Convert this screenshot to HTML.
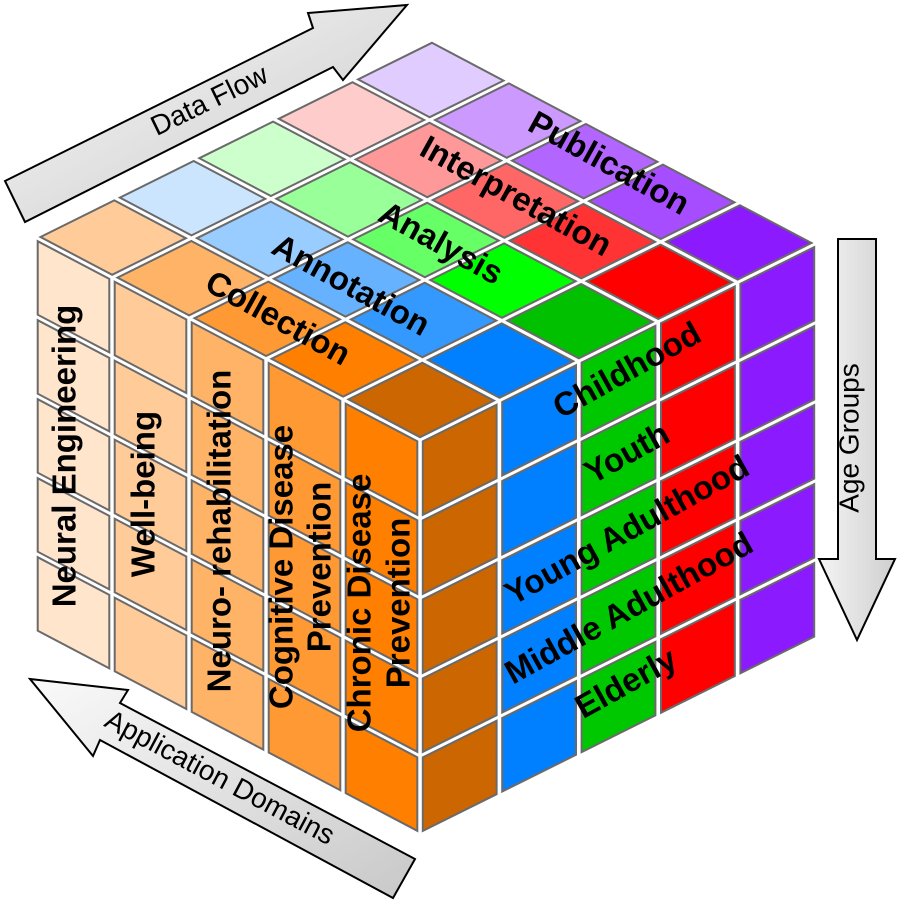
<!DOCTYPE html>
<html><head><meta charset="utf-8">
<style>
html,body{margin:0;padding:0;background:#fff;}
svg{display:block;}
text{font-family:"Liberation Sans",Arial,sans-serif;}
.b{font-weight:bold;font-size:33px;fill:#000;}
.a{font-size:28px;fill:#000;}
</style></head>
<body>
<svg id="s" width="900" height="904" viewBox="0 0 900 904" xmlns="http://www.w3.org/2000/svg">
<defs>
<linearGradient id="g1" x1="0" y1="0" x2="1" y2="1"><stop offset="0" stop-color="#fafafa"/><stop offset="1" stop-color="#c8c8c8"/></linearGradient>
<linearGradient id="g2" x1="0" y1="0" x2="1" y2="0"><stop offset="0" stop-color="#f4f4f4"/><stop offset="1" stop-color="#cfcfcf"/></linearGradient>
</defs>
<polygon points="5,181 313,28 308,13 407,5 343,80 333,67 25,222" fill="url(#g1)" stroke="#000" stroke-width="2"/>
<polygon points="30,679 128,690 120,703 415,859 393,898 100,740 93,756" fill="url(#g1)" stroke="#000" stroke-width="2"/>
<polygon points="838,239 876,239 876,559 895,559 857,640 819,559 838,559" fill="url(#g2)" stroke="#000" stroke-width="2"/>
<g id="cells"></g>
<text class="a" transform="translate(210,102) rotate(-26)" text-anchor="middle" dominant-baseline="middle">Data Flow</text>
<text class="a" transform="translate(219,779) rotate(28)" text-anchor="middle" dominant-baseline="middle">Application Domains</text>
<text class="a" transform="translate(851,438) rotate(-90)" text-anchor="middle" dominant-baseline="middle">Age Groups</text>
<text class="b" transform="translate(67,456) rotate(-90)" text-anchor="middle" dominant-baseline="middle">Neural Engineering</text>
<text class="b" transform="translate(146,494) rotate(-90)" text-anchor="middle" dominant-baseline="middle">Well-being</text>
<text class="b" transform="translate(222,531) rotate(-90)" text-anchor="middle" dominant-baseline="middle">Neuro- rehabilitation</text>
<text class="b" transform="translate(284,567) rotate(-90)" text-anchor="middle" dominant-baseline="middle">Cognitive Disease</text>
<text class="b" transform="translate(322,567) rotate(-90)" text-anchor="middle" dominant-baseline="middle">Prevention</text>
<text class="b" transform="translate(362,603) rotate(-90)" text-anchor="middle" dominant-baseline="middle">Chronic Disease</text>
<text class="b" transform="translate(401,603) rotate(-90)" text-anchor="middle" dominant-baseline="middle">Prevention</text>
<text class="b" transform="translate(277,320) rotate(29)" text-anchor="middle" dominant-baseline="middle">Collection</text>
<text class="b" transform="translate(350,287) rotate(29)" text-anchor="middle" dominant-baseline="middle">Annotation</text>
<text class="b" transform="translate(440,245) rotate(29)" text-anchor="middle" dominant-baseline="middle">Analysis</text>
<text class="b" transform="translate(515,198) rotate(29)" text-anchor="middle" dominant-baseline="middle">Interpretation</text>
<text class="b" transform="translate(608,165) rotate(29)" text-anchor="middle" dominant-baseline="middle">Publication</text>
<text class="b" transform="translate(628,372) rotate(-29)" text-anchor="middle" dominant-baseline="middle">Childhood</text>
<text class="b" transform="translate(628,455) rotate(-29)" text-anchor="middle" dominant-baseline="middle">Youth</text>
<text class="b" transform="translate(628,532) rotate(-29)" text-anchor="middle" dominant-baseline="middle">Young Adulthood</text>
<text class="b" transform="translate(630,610) rotate(-29)" text-anchor="middle" dominant-baseline="middle">Middle Adulthood</text>
<text class="b" transform="translate(627,685) rotate(-29)" text-anchor="middle" dominant-baseline="middle">Elderly</text>
</svg>
<script>
(function(){
var F=[420,440], vL=[-77,-40.6], vR=[79.4,-39.4], vH=[0,79];
var g=document.getElementById('cells'), NS='http://www.w3.org/2000/svg';
function P(a,b,c){return [F[0]+a*vR[0]+b*vL[0]+c*vH[0], F[1]+a*vR[1]+b*vL[1]+c*vH[1]];}
function poly(pts,fill){
  var cx=0,cy=0;pts.forEach(function(p){cx+=p[0];cy+=p[1];});cx/=4;cy/=4;
  var s=0.93;
  var str=pts.map(function(p){return (cx+(p[0]-cx)*s).toFixed(1)+','+(cy+(p[1]-cy)*s).toFixed(1);}).join(' ');
  var e=document.createElementNS(NS,'polygon');
  e.setAttribute('points',str);e.setAttribute('fill',fill);
  e.setAttribute('stroke','#6a6a6a');e.setAttribute('stroke-width','2');
  g.appendChild(e);
}
var top=[
 ['#CC6600','#FF8000','#FF9933','#FFB366','#FFCC99'],
 ['#0080FF','#3399FF','#66B2FF','#99CCFF','#CCE5FF'],
 ['#00C000','#00FF00','#66FF66','#99FF99','#CCFFCC'],
 ['#FF0000','#FF3333','#FF6666','#FF9999','#FFCCCC'],
 ['#8C1AFF','#A64DFF','#B366FF','#CC99FF','#E0CCFF']];
var left=['#FF8000','#FF9933','#FFB366','#FFCC99','#FFE5CC'];
var right=['#CC6600','#0080FF','#00C800','#FF0000','#8C1AFF'];
for(var i=0;i<5;i++)for(var j=0;j<5;j++)
  poly([P(i,j,0),P(i+1,j,0),P(i+1,j+1,0),P(i,j+1,0)],top[i][j]);
for(var j=0;j<5;j++)for(var k=0;k<5;k++)
  poly([P(0,j,k),P(0,j+1,k),P(0,j+1,k+1),P(0,j,k+1)],left[j]);
for(var i=0;i<5;i++)for(var k=0;k<5;k++)
  poly([P(i,0,k),P(i+1,0,k),P(i+1,0,k+1),P(i,0,k+1)],right[i]);
})();
</script>
</body></html>
